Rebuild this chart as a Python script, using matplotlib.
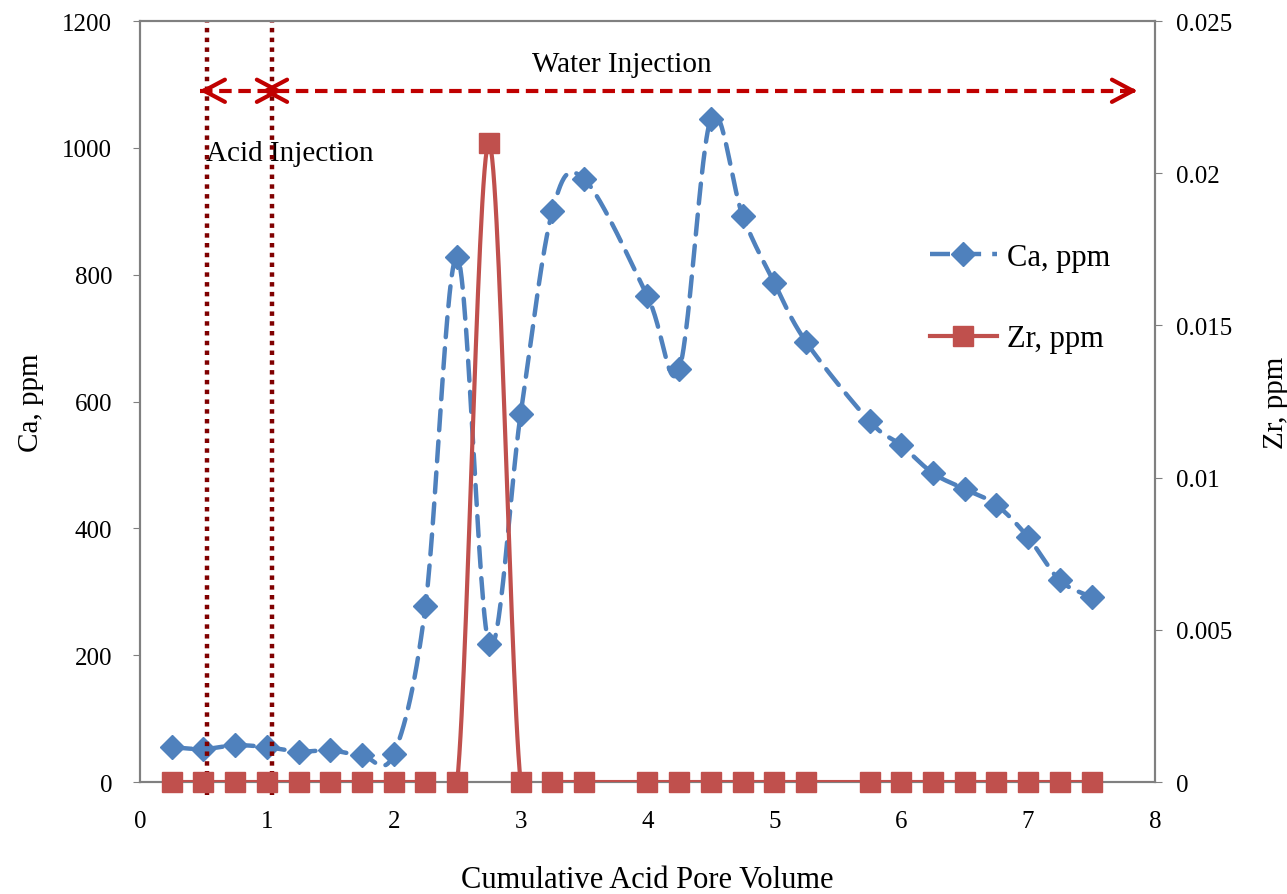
import numpy as np
import matplotlib
matplotlib.use('Agg')
import matplotlib.pyplot as plt

plt.rcParams['font.family'] = ['Liberation Serif', 'DejaVu Serif']

# cumulative acid pore volume where samples were taken
pv = [0.25, 0.5, 0.75, 1.0, 1.25, 1.5, 1.75, 2.0, 2.25, 2.5, 2.75, 3.0, 3.25, 3.5,
      4.0, 4.25, 4.5, 4.75, 5.0, 5.25, 5.75, 6.0, 6.25, 6.5, 6.75, 7.0, 7.25, 7.5]
ca_ppm = [55, 52, 58, 55, 48, 50, 42, 44, 278, 828, 218, 580, 900, 951,
          766, 651, 1046, 893, 787, 694, 569, 531, 487, 462, 437, 386, 318, 292]
zr_ppm = [0, 0, 0, 0, 0, 0, 0, 0, 0, 0, 0.021, 0, 0, 0,
          0, 0, 0, 0, 0, 0, 0, 0, 0, 0, 0, 0, 0, 0]

acid_start, acid_end, water_end = 0.53, 1.04, 7.86

BLUE = '#4F81BD'
RED = '#C0504D'
DARK_RED = '#800000'
ARROW_RED = '#C00000'


def smooth(x, y, n=30):
    # Bezier smoothing through the points, like a spreadsheet "smoothed line"
    x = np.asarray(x, float)
    y = np.asarray(y, float)
    px = np.concatenate([[x[0]], x, [x[-1]]])
    py = np.concatenate([[y[0]], y, [y[-1]]])
    xs, ys = [], []
    t = np.linspace(0, 1, n)
    for i in range(1, len(px) - 2):
        p0 = np.array([px[i], py[i]])
        p3 = np.array([px[i + 1], py[i + 1]])
        p1 = p0 + (np.array([px[i + 1], py[i + 1]]) - np.array([px[i - 1], py[i - 1]])) / 6
        p2 = p3 - (np.array([px[i + 2], py[i + 2]]) - np.array([px[i], py[i]])) / 6
        b = ((1 - t) ** 3)[:, None] * p0 + (3 * (1 - t) ** 2 * t)[:, None] * p1 \
            + (3 * (1 - t) * t ** 2)[:, None] * p2 + (t ** 3)[:, None] * p3
        xs.append(b[:, 0])
        ys.append(b[:, 1])
    return np.concatenate(xs), np.concatenate(ys)


fig = plt.figure(figsize=(12.87, 8.95), dpi=100)
ax = fig.add_axes([0.1088, 0.1251, 0.7886, 0.8503])
ax2 = ax.twinx()

ax.set_xlim(0, 8)
ax.set_ylim(0, 1200)
ax2.set_ylim(0, 0.025)

# Ca: dashed smoothed line with diamonds
cx, cy = smooth(pv, ca_ppm)
ax.plot(cx, cy, color=BLUE, lw=3.2, ls=(0, (4.5, 2.5)), dash_capstyle='round',
        solid_capstyle='round', zorder=3)
ax.plot(pv, ca_ppm, ls='none', marker='D', ms=12, color=BLUE, zorder=4)

# Zr on secondary axis: solid smoothed line with squares
zx, zy = smooth(pv, zr_ppm)
ax2.plot(zx, zy, color=RED, lw=3, zorder=3)
ax2.plot(pv, zr_ppm, ls='none', marker='s', ms=14, color=RED, zorder=4, clip_on=False)

# injection stage boundaries
for xv in (acid_start, acid_end):
    ax.plot([xv, xv], [-20, 1200], color=DARK_RED, lw=3.2, ls=(0, (1, 1.2)),
            clip_on=False, zorder=5)

# injection period arrows
y_arrow = 1090
ax.plot([0.47, water_end], [y_arrow, y_arrow], color=ARROW_RED, lw=3,
        ls=(0, (3, 1.6)), zorder=5)
head = dict(arrowstyle='->,head_length=0.75,head_width=0.4', color=ARROW_RED, lw=3,
            mutation_scale=20, shrinkA=0, shrinkB=0)
off = 0.08
for tip, tail in ((0.47, 0.52), (acid_end + off, acid_end),
                  (acid_end - off, acid_end), (water_end, water_end - 0.05)):
    ax.annotate('', xy=(tip, y_arrow), xytext=(tail, y_arrow), arrowprops=head, zorder=6)

ax.text(3.8, 1132, 'Water Injection', fontsize=21, ha='center', va='center')
ax.text(0.52, 992, 'Acid Injection', fontsize=21, ha='left', va='center')

# axes styling
for a in (ax, ax2):
    for s in a.spines.values():
        s.set_color('#808080')
        s.set_linewidth(1.5)
ax.set_xticks(range(0, 9))
ax.set_yticks(range(0, 1201, 200))
ax2.set_yticks([0, 0.005, 0.01, 0.015, 0.02, 0.025])
ax2.set_yticklabels(['0', '0.005', '0.01', '0.015', '0.02', '0.025'])
ax.tick_params(axis='x', length=0, labelsize=18, pad=20)
ax.tick_params(axis='y', direction='out', length=5, color='#808080', labelsize=18, pad=15)
ax2.tick_params(axis='y', direction='out', length=5, color='#808080', labelsize=18, pad=10)

ax.set_xlabel('Cumulative Acid Pore Volume', fontsize=22, labelpad=24)
ax.set_ylabel('Ca, ppm', fontsize=21, labelpad=13)
ax2.set_ylabel('Zr, ppm', fontsize=21, rotation=90, labelpad=22)

# legend
h1 = ax.plot([], [], color=BLUE, lw=3.2, ls=(0, (4.5, 2.5)), marker='D', ms=12,
             label='Ca, ppm')[0]
h2 = ax.plot([], [], color=RED, lw=3, marker='s', ms=14, label='Zr, ppm')[0]
ax.legend(handles=[h1, h2], loc='upper left', bbox_to_anchor=(0.751, 0.745), frameon=False,
          fontsize=22, handlelength=2.2, labelspacing=1.73, handletextpad=0.33)

fig.savefig('out.png', dpi=100)
